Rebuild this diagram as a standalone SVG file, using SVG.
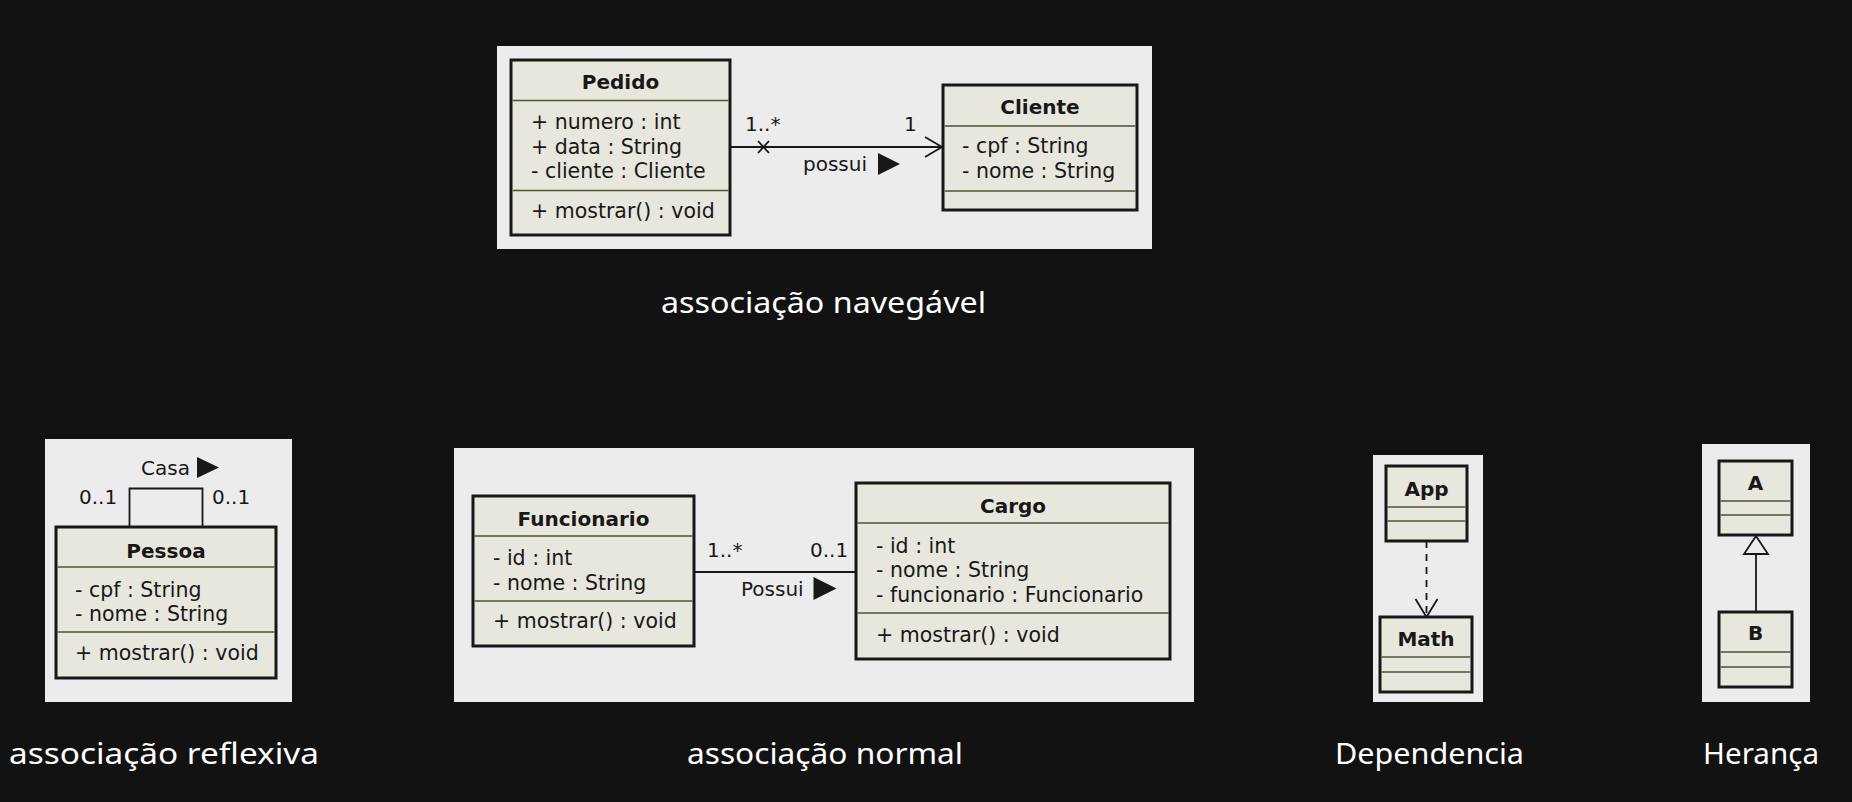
<svg xmlns="http://www.w3.org/2000/svg" width="1852" height="802" viewBox="0 0 1852 802">
<style>
.bg{fill:#121212}
.panel{fill:#ECECEC}
.box{fill:#E7E7DD;stroke:#181818;stroke-width:3}
.sep{stroke:#4F5036;stroke-width:1.6}
.t{font-family:"DejaVu Sans",Verdana,sans-serif;font-size:20.5px;fill:#181818}
.h{font-family:"DejaVu Sans",Verdana,sans-serif;font-size:20px;font-weight:bold;fill:#181818;text-anchor:middle}
.l{font-family:"DejaVu Sans",Verdana,sans-serif;font-size:20px;fill:#181818}
.edge{stroke:#181818;stroke-width:1.8;fill:none}
.cap{font-family:"Noto Sans","DejaVu Sans",sans-serif;font-size:29px;fill:#FFFFFF}
</style>
<rect class="bg" x="0" y="0" width="1852" height="802"/>

<!-- panels -->
<rect class="panel" x="497" y="46" width="655" height="203"/>
<rect class="panel" x="45" y="439" width="247" height="263"/>
<rect class="panel" x="454" y="448" width="740" height="254"/>
<rect class="panel" x="1373" y="455" width="110" height="247"/>
<rect class="panel" x="1702" y="444" width="108" height="258"/>

<g id="connectors">
  <!-- Pedido to Cliente -->
  <line class="edge" x1="730" y1="147" x2="942" y2="147"/>
  <path class="edge" d="M758,141 L769,153 M758,153 L769,141"/>
  <path class="edge" d="M925,137 L942,147 L925,157"/>
  <text class="l" x="745" y="131">1..*</text>
  <text class="l" x="904" y="131">1</text>
  <text class="l" x="803" y="171">possui</text>
  <polygon points="878,153 900,164 878,175" fill="#181818"/>
  <!-- Pessoa self association -->
  <path class="edge" d="M129.5,527 L129.5,488.5 L202.5,488.5 L202.5,527"/>
  <text class="l" x="141" y="475">Casa</text>
  <polygon points="197,457 219,467.5 197,478" fill="#181818"/>
  <text class="l" x="79" y="504">0..1</text>
  <text class="l" x="212" y="504">0..1</text>
  <!-- Funcionario to Cargo -->
  <line class="edge" x1="694" y1="572" x2="855" y2="572"/>
  <text class="l" x="707" y="557">1..*</text>
  <text class="l" x="810" y="557">0..1</text>
  <text class="l" x="741" y="596">Possui</text>
  <polygon points="813.5,577 836.5,588.5 813.5,600" fill="#181818"/>
  <!-- App depends on Math -->
  <line class="edge" x1="1426.5" y1="541" x2="1426.5" y2="616" stroke-dasharray="7,6"/>
  <path class="edge" d="M1415.5,599 L1426.5,617 L1437.5,599"/>
  <!-- B extends A -->
  <line class="edge" x1="1756" y1="554" x2="1756" y2="612"/>
  <polygon points="1756,536 1744,554 1768,554" fill="#ECECEC" stroke="#181818" stroke-width="1.8"/>
</g>

<g id="Pedido">
  <rect class="box" x="511" y="60" width="219" height="175"/>
  <text class="h" x="620.5" y="89">Pedido</text>
  <line class="sep" x1="512.5" y1="100.5" x2="728.5" y2="100.5"/>
  <text class="t" x="531" y="129">+ numero : int</text>
  <text class="t" x="531" y="154">+ data : String</text>
  <text class="t" x="531" y="178">- cliente : Cliente</text>
  <line class="sep" x1="512.5" y1="190.5" x2="728.5" y2="190.5"/>
  <text class="t" x="531" y="218">+ mostrar() : void</text>
</g>

<g id="Cliente">
  <rect class="box" x="943" y="85" width="194" height="125"/>
  <text class="h" x="1040" y="114">Cliente</text>
  <line class="sep" x1="944.5" y1="126" x2="1135.5" y2="126"/>
  <text class="t" x="962" y="153">- cpf : String</text>
  <text class="t" x="962" y="178">- nome : String</text>
  <line class="sep" x1="944.5" y1="191" x2="1135.5" y2="191"/>
</g>

<g id="Pessoa">
  <rect class="box" x="56" y="527" width="220" height="151"/>
  <text class="h" x="166" y="558">Pessoa</text>
  <line class="sep" x1="57.5" y1="567" x2="274.5" y2="567"/>
  <text class="t" x="75" y="597">- cpf : String</text>
  <text class="t" x="75" y="621">- nome : String</text>
  <line class="sep" x1="57.5" y1="632" x2="274.5" y2="632"/>
  <text class="t" x="75" y="660">+ mostrar() : void</text>
</g>

<g id="Funcionario">
  <rect class="box" x="473" y="496" width="221" height="150"/>
  <text class="h" x="583.5" y="526">Funcionario</text>
  <line class="sep" x1="474.5" y1="536" x2="692.5" y2="536"/>
  <text class="t" x="493" y="565">- id : int</text>
  <text class="t" x="493" y="590">- nome : String</text>
  <line class="sep" x1="474.5" y1="601" x2="692.5" y2="601"/>
  <text class="t" x="493" y="628">+ mostrar() : void</text>
</g>

<g id="Cargo">
  <rect class="box" x="856" y="483" width="314" height="176"/>
  <text class="h" x="1013" y="513">Cargo</text>
  <line class="sep" x1="857.5" y1="523" x2="1168.5" y2="523"/>
  <text class="t" x="876" y="553">- id : int</text>
  <text class="t" x="876" y="577">- nome : String</text>
  <text class="t" x="876" y="602">- funcionario : Funcionario</text>
  <line class="sep" x1="857.5" y1="613" x2="1168.5" y2="613"/>
  <text class="t" x="876" y="642">+ mostrar() : void</text>
</g>

<g id="App">
  <rect class="box" x="1386" y="466" width="81" height="75"/>
  <text class="h" x="1426.5" y="496">App</text>
  <line class="sep" x1="1387.5" y1="507" x2="1465.5" y2="507"/>
  <line class="sep" x1="1387.5" y1="521" x2="1465.5" y2="521"/>
</g>

<g id="Math">
  <rect class="box" x="1380" y="617" width="92" height="75"/>
  <text class="h" x="1426" y="646">Math</text>
  <line class="sep" x1="1381.5" y1="657" x2="1470.5" y2="657"/>
  <line class="sep" x1="1381.5" y1="672" x2="1470.5" y2="672"/>
</g>

<g id="A">
  <rect class="box" x="1719" y="461" width="73" height="74"/>
  <text class="h" x="1755.5" y="490">A</text>
  <line class="sep" x1="1720.5" y1="501" x2="1790.5" y2="501"/>
  <line class="sep" x1="1720.5" y1="515" x2="1790.5" y2="515"/>
</g>

<g id="B">
  <rect class="box" x="1719" y="612" width="73" height="75"/>
  <text class="h" x="1755.5" y="640">B</text>
  <line class="sep" x1="1720.5" y1="652" x2="1790.5" y2="652"/>
  <line class="sep" x1="1720.5" y1="667" x2="1790.5" y2="667"/>
</g>

<g id="captions">
<text class="cap" x="661" y="313" textLength="325" lengthAdjust="spacingAndGlyphs">associação navegável</text>
<text class="cap" x="9" y="764" textLength="310" lengthAdjust="spacingAndGlyphs">associação reflexiva</text>
<text class="cap" x="687" y="764" textLength="276" lengthAdjust="spacingAndGlyphs">associação normal</text>
<text class="cap" x="1335" y="764" textLength="189" lengthAdjust="spacingAndGlyphs">Dependencia</text>
<text class="cap" x="1703" y="764" textLength="116" lengthAdjust="spacingAndGlyphs">Herança</text>
</g>
</svg>
